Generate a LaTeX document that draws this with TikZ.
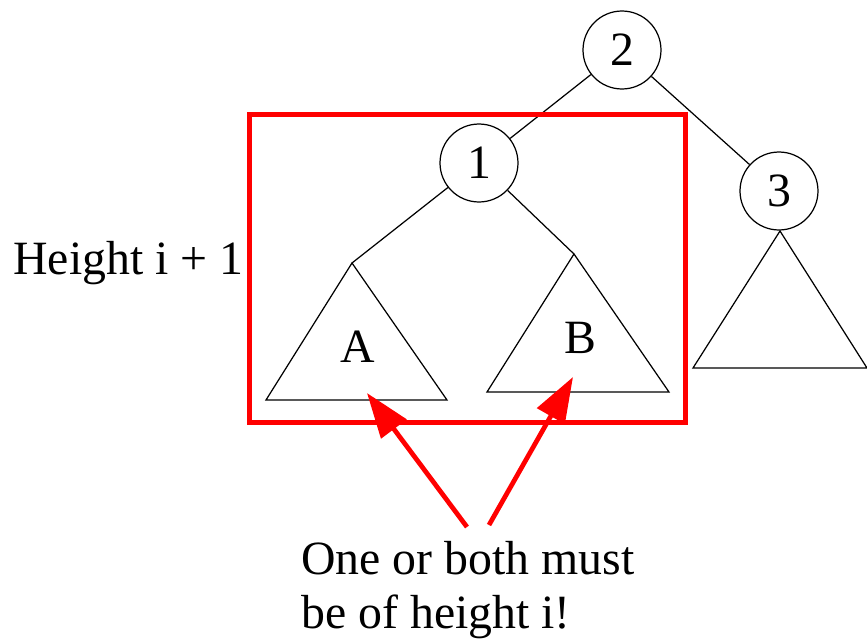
\documentclass[tikz,border=0pt]{standalone}
\usepackage{fontspec}
\setmainfont{Liberation Serif}
\usetikzlibrary{arrows.meta, positioning, calc}
\definecolor{BoxRed}{rgb}{1, 0, 0}

\tikzset{
  treenode/.style={draw, circle, inner sep=0pt, minimum size=1.56cm, line width=0.7pt},
  subtree/.style={draw, line width=0.7pt, line join=miter},
  redline/.style={draw=BoxRed, line width=2.9pt},
  redarrow/.style={->, draw=BoxRed, line width=2.7pt, shorten >=0pt}
}

\begin{document}
\begin{tikzpicture}[x=0.02cm, y=-0.02cm, >={Triangle[length=0.9cm, width=0.62cm]},
  font=\fontsize{27.2}{30.6}\selectfont]
        \useasboundingbox (0,0) rectangle (867,639);

        % Tree nodes
        \node[treenode] (n2) at (622, 50) {2};
        \node[treenode] (n1) at (479, 163) {1};
        \node[treenode] (n3) at (779, 191) {3};
        \draw[line width=0.7pt] (n2) -- (n1);
        \draw[line width=0.7pt] (n2) -- (n3);

        % Subtrees
        \coordinate (topA) at (352, 263);
        \coordinate (topB) at (574, 254);
        \coordinate (topC) at (780, 231);
        \draw[subtree] (topA) -- (266, 400) -- (447, 400) -- cycle;
        \draw[subtree] (topB) -- (487, 392) -- (669, 392) -- cycle;
        \draw[subtree] (topC) -- (693, 368) -- (867, 368) -- cycle;
        \draw[line width=0.7pt] (n1) -- (topA);
        \draw[line width=0.7pt] (n1) -- (topB);
        \node[anchor=base] (labA) at (358, 362) {A};
        \node[anchor=base] (labB) at (580, 353) {B};

        % Highlight box
        \draw[redline] (249.5, 114.5) rectangle (685.5, 422.5);
        \node[anchor=base west, inner sep=0pt] (height) at (13, 275) {Height i + 1};

        % Note with arrows
        \node[anchor=north west, inner sep=0pt, align=left] (note) at (301, 541)
          {One or both must\\be of height i!};
        \coordinate (fromA) at (467, 527);
        \coordinate (fromB) at (489, 525);
        \coordinate (tipA) at (367, 393);
        \coordinate (tipB) at (573, 377);
        \draw[redarrow] (fromA) -- (tipA);
        \draw[redarrow] (fromB) -- (tipB);
    \end{tikzpicture}
\end{document}
